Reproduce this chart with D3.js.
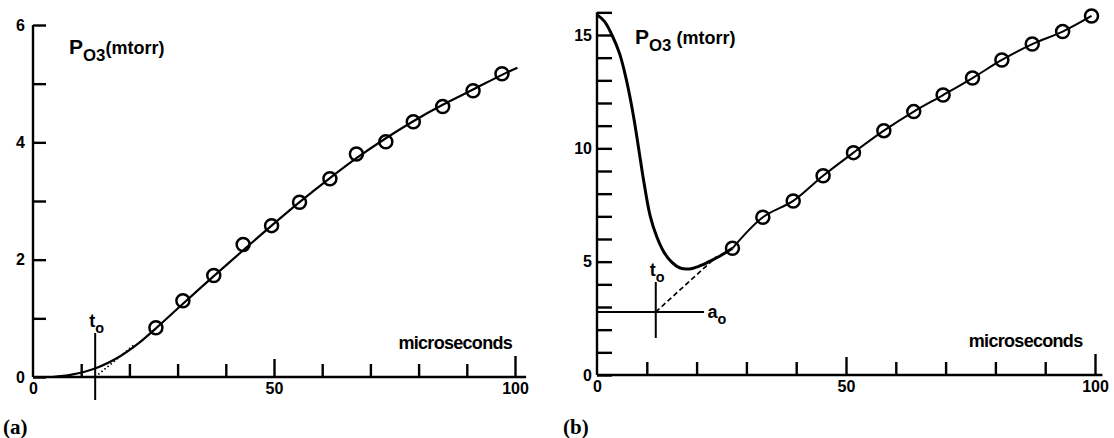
<!DOCTYPE html>
<html>
<head>
<meta charset="utf-8">
<script src="https://cdn.jsdelivr.net/npm/d3@7"></script>
<style>
    body { margin: 0; background: #fff; }
    svg { display: block; font-family: "Liberation Sans", Arial, sans-serif; }
    .axis-line { stroke: #000; stroke-width: 2.4; }
    .tick line { stroke: #000; stroke-width: 2.4; }
    .tick text { font-size: 16px; font-weight: bold; fill: #000; }
</style>
</head>
<body>
<div id="chart"></div>
<script>

// ---- panel (a) : measured points and fitted curve ----
var timeA = [25.5, 31.1, 37.5, 43.6, 49.5, 55.3, 61.6, 67.1, 73.2, 78.9, 85.0, 91.3, 97.3];
var pressureA = [0.84, 1.30, 1.73, 2.26, 2.58, 2.98, 3.38, 3.80, 4.01, 4.35, 4.61, 4.88, 5.17];
var curveTimeA = [4, 8, 13, 18, 22, 25.5, 31, 37.5, 43.6, 49.5, 55.3, 61.6, 67.1, 73.2, 78.9, 85, 91.3, 97.3, 100.5];
var curvePressureA = [0, 0.04, 0.15, 0.35, 0.58, 0.83, 1.24, 1.72, 2.16, 2.58, 2.98, 3.39, 3.73, 4.07, 4.36, 4.64, 4.9, 5.15, 5.27];
var tangentTimeA = [12.9, 21];
var tangentPressureA = [0, 0.55];
var t0A = 12.9;

// ---- panel (b) ----
var timeB = [27.2, 33.3, 39.4, 45.4, 51.5, 57.6, 63.6, 69.5, 75.4, 81.3, 87.4, 93.5, 99.3];
var pressureB = [5.59, 6.96, 7.68, 8.79, 9.81, 10.78, 11.62, 12.35, 13.10, 13.90, 14.60, 15.15, 15.84];
var curveTimeB = [0, 1.5, 3, 4.5, 5.5, 6.5, 7.5, 8.5, 9.5, 10.7, 12, 13.5, 15, 16.7, 18.5, 20.5, 22.5, 24.7, 27.2];
var curvePressureB = [15.9, 15.6, 15.0, 14.2, 13.4, 12.4, 11.2, 9.8, 8.4, 7.0, 6.1, 5.4, 4.98, 4.72, 4.68, 4.8, 5.0, 5.25, 5.59];
var tangentTimeB = [11.8, 24.0];
var tangentPressureB = [2.78, 5.22];
var t0B = 11.8;
var a0B = 2.78;

var xTicks = [0, 10, 20, 30, 40, 50, 60, 70, 80, 90, 100];
var xLabels = [0, 50, 100];

var width = 1114, height = 438;

var svg = d3.select("#chart").append("svg")
    .attr("width", width)
    .attr("height", height);


function zip(xs, ys) {
    return xs.map(function(d, i){ return [d, ys[i]]; });
}

// subscripted label like P_O3 or t_o
function subLabel(g, x, y, main, sub, size, rest, restSize) {
    var t = g.append("text")
        .attr("x", x)
        .attr("y", y)
        .style("font-size", size + "px")
        .style("font-weight", "bold");
    t.append("tspan").text(main);
    t.append("tspan")
        .attr("dy", size * 0.35)
        .style("font-size", (size * 0.8) + "px")
        .text(sub);
    if (rest) {
        t.append("tspan")
            .attr("dy", -size * 0.35)
            .style("font-size", restSize + "px")
            .text(rest);
    }
    return t;
}


function drawPanel(cfg) {
    var g = svg.append("g");

    var x = d3.scaleLinear().domain([0, 100]).range(cfg.xRange);
    var y = d3.scaleLinear().domain([0, cfg.yMax]).range(cfg.yRange);

    // y axis (ticks point inwards)
    var yAxis = d3.axisLeft(y)
        .tickValues(d3.range(0, cfg.yTop + 1))
        .tickSizeInner(-cfg.yTickLen)
        .tickSizeOuter(0)
        .tickPadding(cfg.yPad)
        .tickFormat(function(d){ return cfg.yLabels.indexOf(d) >= 0 ? d : ""; });

    var yg = g.append("g")
        .attr("transform", "translate(" + x(0) + ",0)")
        .call(yAxis);
    yg.select(".domain").remove();

    // x axis
    var xAxis = d3.axisBottom(x)
        .tickValues(xTicks)
        .tickSizeInner(-13)
        .tickSizeOuter(0)
        .tickPadding(6)
        .tickFormat(function(d){ return xLabels.indexOf(d) >= 0 ? d : ""; });

    var xg = g.append("g")
        .attr("transform", "translate(0," + y(0) + ")")
        .call(xAxis);
    xg.select(".domain").remove();
    xg.selectAll(".tick line")
        .attr("y2", function(d){ return d === 100 ? -21 : (d === 50 ? -18 : -13); })
        .style("display", function(d){ return d === 0 ? "none" : null; });

    // axis lines
    g.append("line").attr("class", "axis-line")
        .attr("x1", x(0)).attr("x2", x(0))
        .attr("y1", y(0)).attr("y2", y(cfg.yTop));
    g.append("line").attr("class", "axis-line")
        .attr("x1", x(0)).attr("x2", x(cfg.xEnd))
        .attr("y1", y(0)).attr("y2", y(0));

    var line = d3.line()
        .x(function(d){ return x(d[0]); })
        .y(function(d){ return y(d[1]); })
        .curve(d3.curveCatmullRom);

    // fitted curve
    g.append("path")
        .datum(zip(cfg.curveT, cfg.curveP))
        .attr("d", line)
        .attr("fill", "none")
        .attr("stroke", "#000")
        .attr("stroke-width", cfg.curveWidth);

    // the rest of the line through the points (panel b)
    if (cfg.extendLine) {
        g.append("path")
            .datum(zip(cfg.pointT, cfg.pointP))
            .attr("d", line)
            .attr("fill", "none")
            .attr("stroke", "#000")
            .attr("stroke-width", 2);
    }

    // tangent extrapolation
    g.append("path")
        .datum(zip(cfg.tanT, cfg.tanP))
        .attr("d", d3.line()
            .x(function(d){ return x(d[0]); })
            .y(function(d){ return y(d[1]); }))
        .attr("fill", "none")
        .attr("stroke", "#000")
        .attr("stroke-width", 1.7)
        .attr("stroke-dasharray", cfg.dash);

    // data circles
    g.selectAll("circle")
        .data(zip(cfg.pointT, cfg.pointP))
        .enter().append("circle")
        .attr("cx", function(d){ return x(d[0]); })
        .attr("cy", function(d){ return y(d[1]); })
        .attr("r", 6.5)
        .attr("fill", "none")
        .attr("stroke", "#000")
        .attr("stroke-width", 2.5);

    // t0 marker
    g.append("line")
        .attr("x1", x(cfg.t0)).attr("x2", x(cfg.t0))
        .attr("y1", y(cfg.t0Base) - cfg.t0Up).attr("y2", y(cfg.t0Base) + cfg.t0Down)
        .attr("stroke", "#000").attr("stroke-width", 2);
    subLabel(g, x(cfg.t0) - 6, y(cfg.t0Base) - cfg.t0Up - 6, "t", "o", 18);

    // labels
    g.append("text")
        .attr("x", x(cfg.xEnd) - cfg.microRight)
        .attr("y", y(0) - 28)
        .attr("text-anchor", "end")
        .style("font-size", "18px")
        .style("font-weight", "bold")
        .style("letter-spacing", "-0.7px")
        .text("microseconds");

    subLabel(g, cfg.titleX, cfg.titleY, "P", "O3", 21, cfg.titleRest, 18);

    g.append("text")
        .attr("x", cfg.panelX)
        .attr("y", 434)
        .style("font-family", "'Liberation Serif', 'Times New Roman', serif")
        .style("font-size", "21px")
        .style("font-weight", "bold")
        .text(cfg.panel);

    return {x: x, y: y, g: g};
}


var panelA = drawPanel({
    xRange: [33, 515], yRange: [377, 25], yMax: 6, yTop: 6, xEnd: 102.3,
    yLabels: [0, 2, 4, 6], yTickLen: 13, yPad: 8,
    curveT: curveTimeA, curveP: curvePressureA, curveWidth: 2.2,
    pointT: timeA, pointP: pressureA, extendLine: false,
    tanT: tangentTimeA, tanP: tangentPressureA, dash: "1.5,2.5",
    t0: t0A, t0Base: 0, t0Up: 44, t0Down: 23,
    microRight: 14, titleX: 69, titleY: 54, titleRest: "(mtorr)",
    panelX: 3, panel: "(a)"
});

var panelB = drawPanel({
    xRange: [597, 1095], yRange: [375, 35], yMax: 15, yTop: 16, xEnd: 101.5,
    yLabels: [0, 5, 10, 15], yTickLen: 15, yPad: 5,
    curveT: curveTimeB, curveP: curvePressureB, curveWidth: 3,
    pointT: timeB, pointP: pressureB, extendLine: true,
    tanT: tangentTimeB, tanP: tangentPressureB, dash: "5,3",
    t0: t0B, t0Base: a0B, t0Up: 30, t0Down: 26,
    microRight: 20, titleX: 635, titleY: 44, titleRest: " (mtorr)",
    panelX: 563, panel: "(b)"
});

// a0 level line in panel (b)
panelB.g.append("line")
    .attr("x1", panelB.x(0)).attr("x2", panelB.x(21.5))
    .attr("y1", panelB.y(a0B)).attr("y2", panelB.y(a0B))
    .attr("stroke", "#000").attr("stroke-width", 2);
subLabel(panelB.g, panelB.x(22.2), panelB.y(a0B) + 6, "a", "o", 18);

</script>
</body>
</html>
